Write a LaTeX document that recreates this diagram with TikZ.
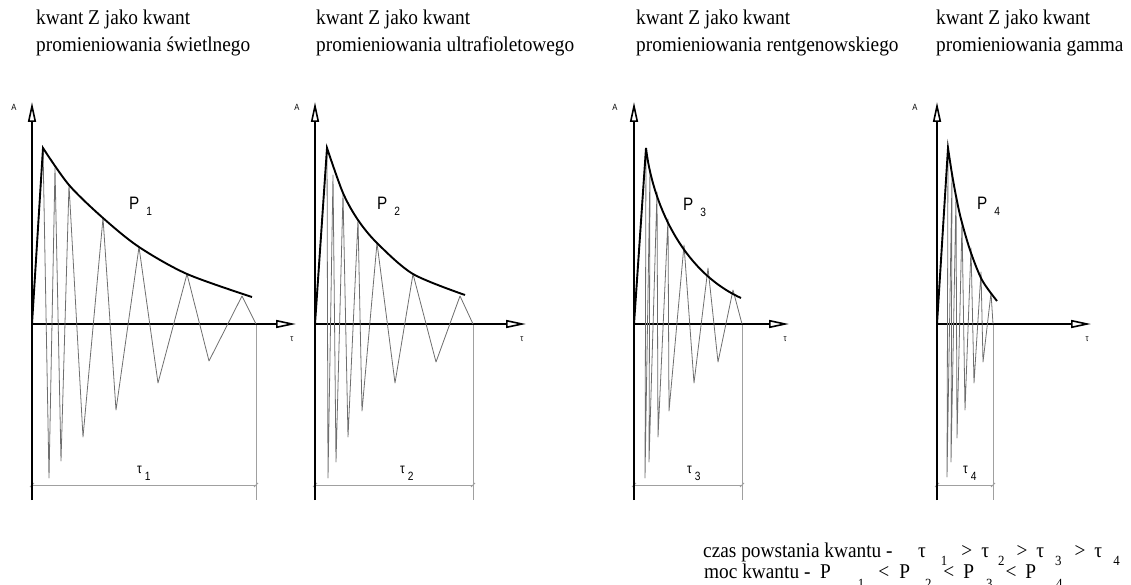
\documentclass[tikz,border=0pt]{standalone}
\usepackage{fontspec}
\setmainfont{Liberation Serif}
\newfontfamily\titlefont[FakeStretch=0.92]{Liberation Serif}
\newfontfamily\cadfont[FakeStretch=0.85]{Liberation Sans}
\usetikzlibrary{arrows.meta}
\definecolor{osc}{RGB}{110,110,110}
\definecolor{dimc}{RGB}{160,160,160}
\newcommand{\lowdig}[2]{\raisebox{-#1}{\fontsize{14}{14}\selectfont #2}}
\newcommand{\cadsub}[2]{\raisebox{-#1}{\fontsize{12}{12}\selectfont #2}}

\begin{document}
\begin{tikzpicture}[x=1pt,y=-1pt,
  axis/.style={line width=1.6pt,-{Triangle[open,length=20pt,width=8pt]}},
  wave/.style={osc,line width=0.8pt,line join=round},
  env/.style={line width=1.9pt,line join=miter},
  dimline/.style={dimc,line width=0.8pt},
  title/.style={font=\titlefont\fontsize{21}{27}\selectfont,align=left,
                anchor=base west,inner sep=0pt},
  note/.style={font=\titlefont\fontsize{21}{25}\selectfont,anchor=base west,
               inner sep=0pt},
  small/.style={font=\cadfont\fontsize{9}{9}\selectfont,inner sep=0pt},
  plabel/.style={font=\cadfont\fontsize{18}{18}\selectfont,anchor=base west,
                 inner sep=0pt},
  tlabel/.style={font=\cadfont\fontsize{14}{14}\selectfont,anchor=base west,
                 inner sep=0pt}]
\useasboundingbox (0,0) rectangle (1131,585);

% titles
\node[title] (h1) at (36,52) {kwant Z jako kwant\\promieniowania świetlnego};
\node[title] (h2) at (316,52) {kwant Z jako kwant\\promieniowania ultrafioletowego};
\node[title] (h3) at (636,52) {kwant Z jako kwant\\promieniowania rentgenowskiego};
\node[title] (h4) at (936,52) {kwant Z jako kwant\\promieniowania gamma};

% axes and time spans
\foreach \ox/\tip/\ex/\n/\lx in {32/296/256/1/14, 315/526/473/2/297,
                                 634/789/742/3/615, 937/1091/993/4/915}{
  \draw[dimline] (\ex,324) -- (\ex,500);
  \draw[dimline] (\ox,485) -- (\ex,485);
  \draw[dimline] (\ox-2,487) -- (\ox+2,483);
  \draw[dimline] (\ex-2,487) -- (\ex+2,483);
  \draw[axis] (\ox,500) -- (\ox,102);
  \draw[axis] (\ox,324) -- (\tip,324);
  \node[small] (a\n) at (\lx,107) {A};
  \node[small] (x\n) at (\tip-4,339) {τ};
}

% panel 1
\draw[wave] plot coordinates {(32,324) (43,148) (49,478) (55,168) (61,461)
  (69,185) (83,437) (103,218) (116,410) (139,247) (158,383) (187,274)
  (209,361) (242,296) (256,324)};
\draw[env] (32,324) -- plot[smooth] coordinates {(43,148) (69,185) (103,218)
  (139,247) (187,274) (252,297)};
% panel 2
\draw[wave] plot coordinates {(315,324) (327,148) (328,478) (333,175)
  (336,462) (343,194) (348,437) (358,220) (362,411) (377,243) (395,383)
  (413,274) (436,362) (460,296) (473,324)};
\draw[env] (315,324) -- plot[smooth] coordinates {(327,148) (343,193)
  (358,220) (377,243) (413,274) (465,295)};
% panel 3
\draw[wave] plot coordinates {(634,324) (646,148) (645,478) (650,170)
  (649,462) (657,192) (658,437) (668,219) (669,411) (684,245) (694,383)
  (708,268) (718,362) (733,290) (742,324)};
\draw[env] (634,324) -- (646,148) .. controls (652,200) and (680,270) .. (741,298);
% panel 4
\draw[wave] plot coordinates {(937,324) (948,148) (947,477) (952,176)
  (951,462) (956,196) (957,438) (962,222) (965,410) (971,248) (974,383)
  (981,272) (983,362) (991,293) (993,324)};
\draw[env] (937,324) -- plot[smooth] coordinates {(948,148) (953,180)
  (960,215) (970,250) (982,280) (997,301)};

% power and time labels
\node[plabel] (p1) at (129,210) {P\hspace{7pt}\cadsub{6pt}{1}};
\node[plabel] (p2) at (377,210) {P\hspace{7pt}\cadsub{6pt}{2}};
\node[plabel] (p3) at (683,211) {P\hspace{7pt}\cadsub{6pt}{3}};
\node[plabel] (p4) at (977,210) {P\hspace{7pt}\cadsub{6pt}{4}};
\node[tlabel] (tau1) at (137,473) {τ\hspace{3pt}\cadsub{7pt}{1}};
\node[tlabel] (tau2) at (400,473) {τ\hspace{3pt}\cadsub{7pt}{2}};
\node[tlabel] (tau3) at (687,473) {τ\hspace{3pt}\cadsub{7pt}{3}};
\node[tlabel] (tau4) at (963,473) {τ\hspace{3pt}\cadsub{7pt}{4}};

% summary
\node[note] (c1) at (703,557) {czas powstania kwantu -};
\node[note] (c2) at (918,557) {τ\hspace{15pt}\lowdig{8pt}{1}\hspace{14pt}>\hspace{9pt}τ\hspace{9pt}\lowdig{8pt}{2}\hspace{12pt}>\hspace{9pt}τ\hspace{11pt}\lowdig{8pt}{3}\hspace{13pt}>\hspace{9pt}τ\hspace{11pt}\lowdig{8pt}{4}};
\node[note] (m1) at (704,578) {moc kwantu -};
\node[note] (m2) at (820,578) {P\hspace{27pt}\lowdig{10pt}{1}\hspace{14pt}<\hspace{10pt}P\hspace{15pt}\lowdig{10pt}{2}\hspace{12pt}<\hspace{9pt}P\hspace{12pt}\lowdig{10pt}{3}\hspace{13pt}<\hspace{9pt}P\hspace{20pt}\lowdig{10pt}{4}};
\end{tikzpicture}
\end{document}
